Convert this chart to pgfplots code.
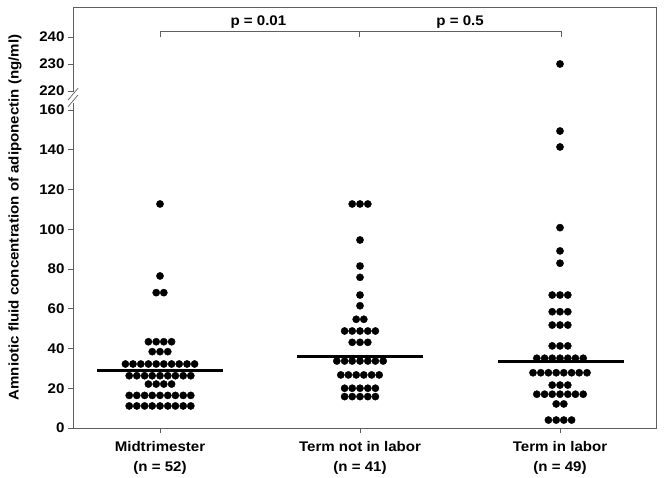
\documentclass[border=0pt]{standalone}
\usepackage{fontspec}
\setmainfont{Liberation Sans}[FakeStretch=1.08]
\usepackage{pgfplots}
\pgfplotsset{compat=1.18}
\definecolor{ax}{RGB}{95,95,95}
\newcommand{\lf}{\bfseries\fontsize{14}{19.5}\selectfont}

\pgfplotstableread{
x y
1.000 112.7
1.000 76.5
0.981 68.1
1.019 68.1
0.942 43.4
0.981 43.4
1.019 43.4
1.058 43.4
0.961 38.4
1.000 38.4
1.039 38.4
0.827 32.2
0.865 32.2
0.904 32.2
0.942 32.2
0.981 32.2
1.019 32.2
1.058 32.2
1.096 32.2
1.135 32.2
1.173 32.2
0.846 26.3
0.884 26.3
0.923 26.3
0.961 26.3
1.000 26.3
1.039 26.3
1.077 26.3
1.116 26.3
1.154 26.3
0.942 22.1
0.981 22.1
1.019 22.1
1.058 22.1
0.846 16.4
0.884 16.4
0.923 16.4
0.961 16.4
1.000 16.4
1.039 16.4
1.077 16.4
1.116 16.4
1.154 16.4
0.846 11.1
0.884 11.1
0.923 11.1
0.961 11.1
1.000 11.1
1.039 11.1
1.077 11.1
1.116 11.1
1.154 11.1
}\groupA

\pgfplotstableread{
x y
1.961 112.7
2.000 112.7
2.039 112.7
2.000 94.6
2.000 81.5
2.000 75.8
2.000 66.9
2.000 61.5
1.981 54.7
2.019 54.7
1.923 48.8
1.961 48.8
2.000 48.8
2.039 48.8
2.077 48.8
1.961 43.1
2.000 43.1
2.039 43.1
1.884 33.7
1.923 33.7
1.961 33.7
2.000 33.7
2.039 33.7
2.077 33.7
2.116 33.7
1.904 26.7
1.942 26.7
1.981 26.7
2.019 26.7
2.058 26.7
2.096 26.7
1.923 20.0
1.961 20.0
2.000 20.0
2.039 20.0
2.077 20.0
1.923 15.8
1.961 15.8
2.000 15.8
2.039 15.8
2.077 15.8
}\groupB

\pgfplotstableread{
x y
3.000 230.0
3.000 149.4
3.000 141.4
3.000 100.8
3.000 89.1
3.000 82.9
2.961 66.9
3.000 66.9
3.039 66.9
2.961 58.5
3.000 58.5
3.039 58.5
2.961 51.8
3.000 51.8
3.039 51.8
2.961 41.3
3.000 41.3
3.039 41.3
2.884 35.1
2.923 35.1
2.961 35.1
3.000 35.1
3.039 35.1
3.077 35.1
3.116 35.1
2.865 27.8
2.904 27.8
2.942 27.8
2.981 27.8
3.019 27.8
3.058 27.8
3.096 27.8
3.135 27.8
2.961 21.6
3.000 21.6
3.039 21.6
2.884 17.0
2.923 17.0
2.961 17.0
3.000 17.0
3.039 17.0
3.077 17.0
3.116 17.0
2.981 12.1
3.019 12.1
2.942 4.0
2.981 4.0
3.019 4.0
3.058 4.0
}\groupC

\begin{document}
\begin{tikzpicture}
\begin{axis}[
  at={(0,0)}, anchor=south west,
  scale only axis, width=583bp, height=421bp,
  xmin=0.565, xmax=3.48,
  y coord trafo/.code={\pgfmathparse{(#1>190)?(169.56+(#1-220)*1.3585):(#1)}},
  ymin=0, ymax=251.1,
  axis line style={ax, line width=0.8bp},
  xtick={1,2,3},
  xticklabels={{Midtrimester\\(n = 52)},{Term not in labor\\(n = 41)},{Term in labor\\(n = 49)}},
  xticklabel style={align=center, font=\lf, yshift=-5bp},
  ytick={0,20,40,60,80,100,120,140,160,220,230,240},
  yticklabels={0,20,40,60,80,100,120,140,160,220,230,240},
  yticklabel style={font=\lf},
  /pgf/number format/assume math mode=true,
  tick align=outside, major tick length=5bp,
  tick style={ax, line width=0.8bp},
  xtick pos=bottom, ytick pos=left,
  ylabel={Amniotic fluid concentration of adiponectin (ng/ml)},
  ylabel style={at={(axis description cs:-0.0995,0.5)}, anchor=center, font=\lf},
  clip=false,
]
\addplot[only marks, mark=*, mark size=3.6bp, black] table[x=x,y=y] {\groupA};
\addplot[only marks, mark=*, mark size=3.6bp, black] table[x=x,y=y] {\groupB};
\addplot[only marks, mark=*, mark size=3.6bp, black] table[x=x,y=y] {\groupC};
\addplot[black, line width=3.6bp] coordinates {(0.6865,29.0) (1.3135,29.0)};
\addplot[black, line width=3.6bp] coordinates {(1.6865,35.9) (2.3135,35.9)};
\addplot[black, line width=3.6bp] coordinates {(2.69,33.4) (3.32,33.4)};
\draw[ax, line width=0.8bp] (rel axis cs:0.1492,0.928) -- (rel axis cs:0.1492,0.943) -- (rel axis cs:0.838,0.943) -- (rel axis cs:0.838,0.928);
\draw[ax, line width=0.8bp] (rel axis cs:0.491,0.943) -- (rel axis cs:0.491,0.928);
\node[anchor=base, font=\lf] at (rel axis cs:0.318,0.957) {p = 0.01};
\node[anchor=base, font=\lf] at (rel axis cs:0.664,0.957) {p = 0.5};
\fill[white] ([xshift=-1bp]rel axis cs:0,0.772) rectangle ([xshift=1bp]rel axis cs:0,0.797);
\draw[ax, line width=0.7bp] ([xshift=-5bp]rel axis cs:0,0.779) -- ([xshift=5bp]rel axis cs:0,0.807);
\draw[ax, line width=0.7bp] ([xshift=-5bp]rel axis cs:0,0.763) -- ([xshift=5bp]rel axis cs:0,0.791);
\end{axis}
\pgfresetboundingbox
\path[use as bounding box] (-73bp,-50bp) rectangle (591bp,428bp);
\end{tikzpicture}
\end{document}
